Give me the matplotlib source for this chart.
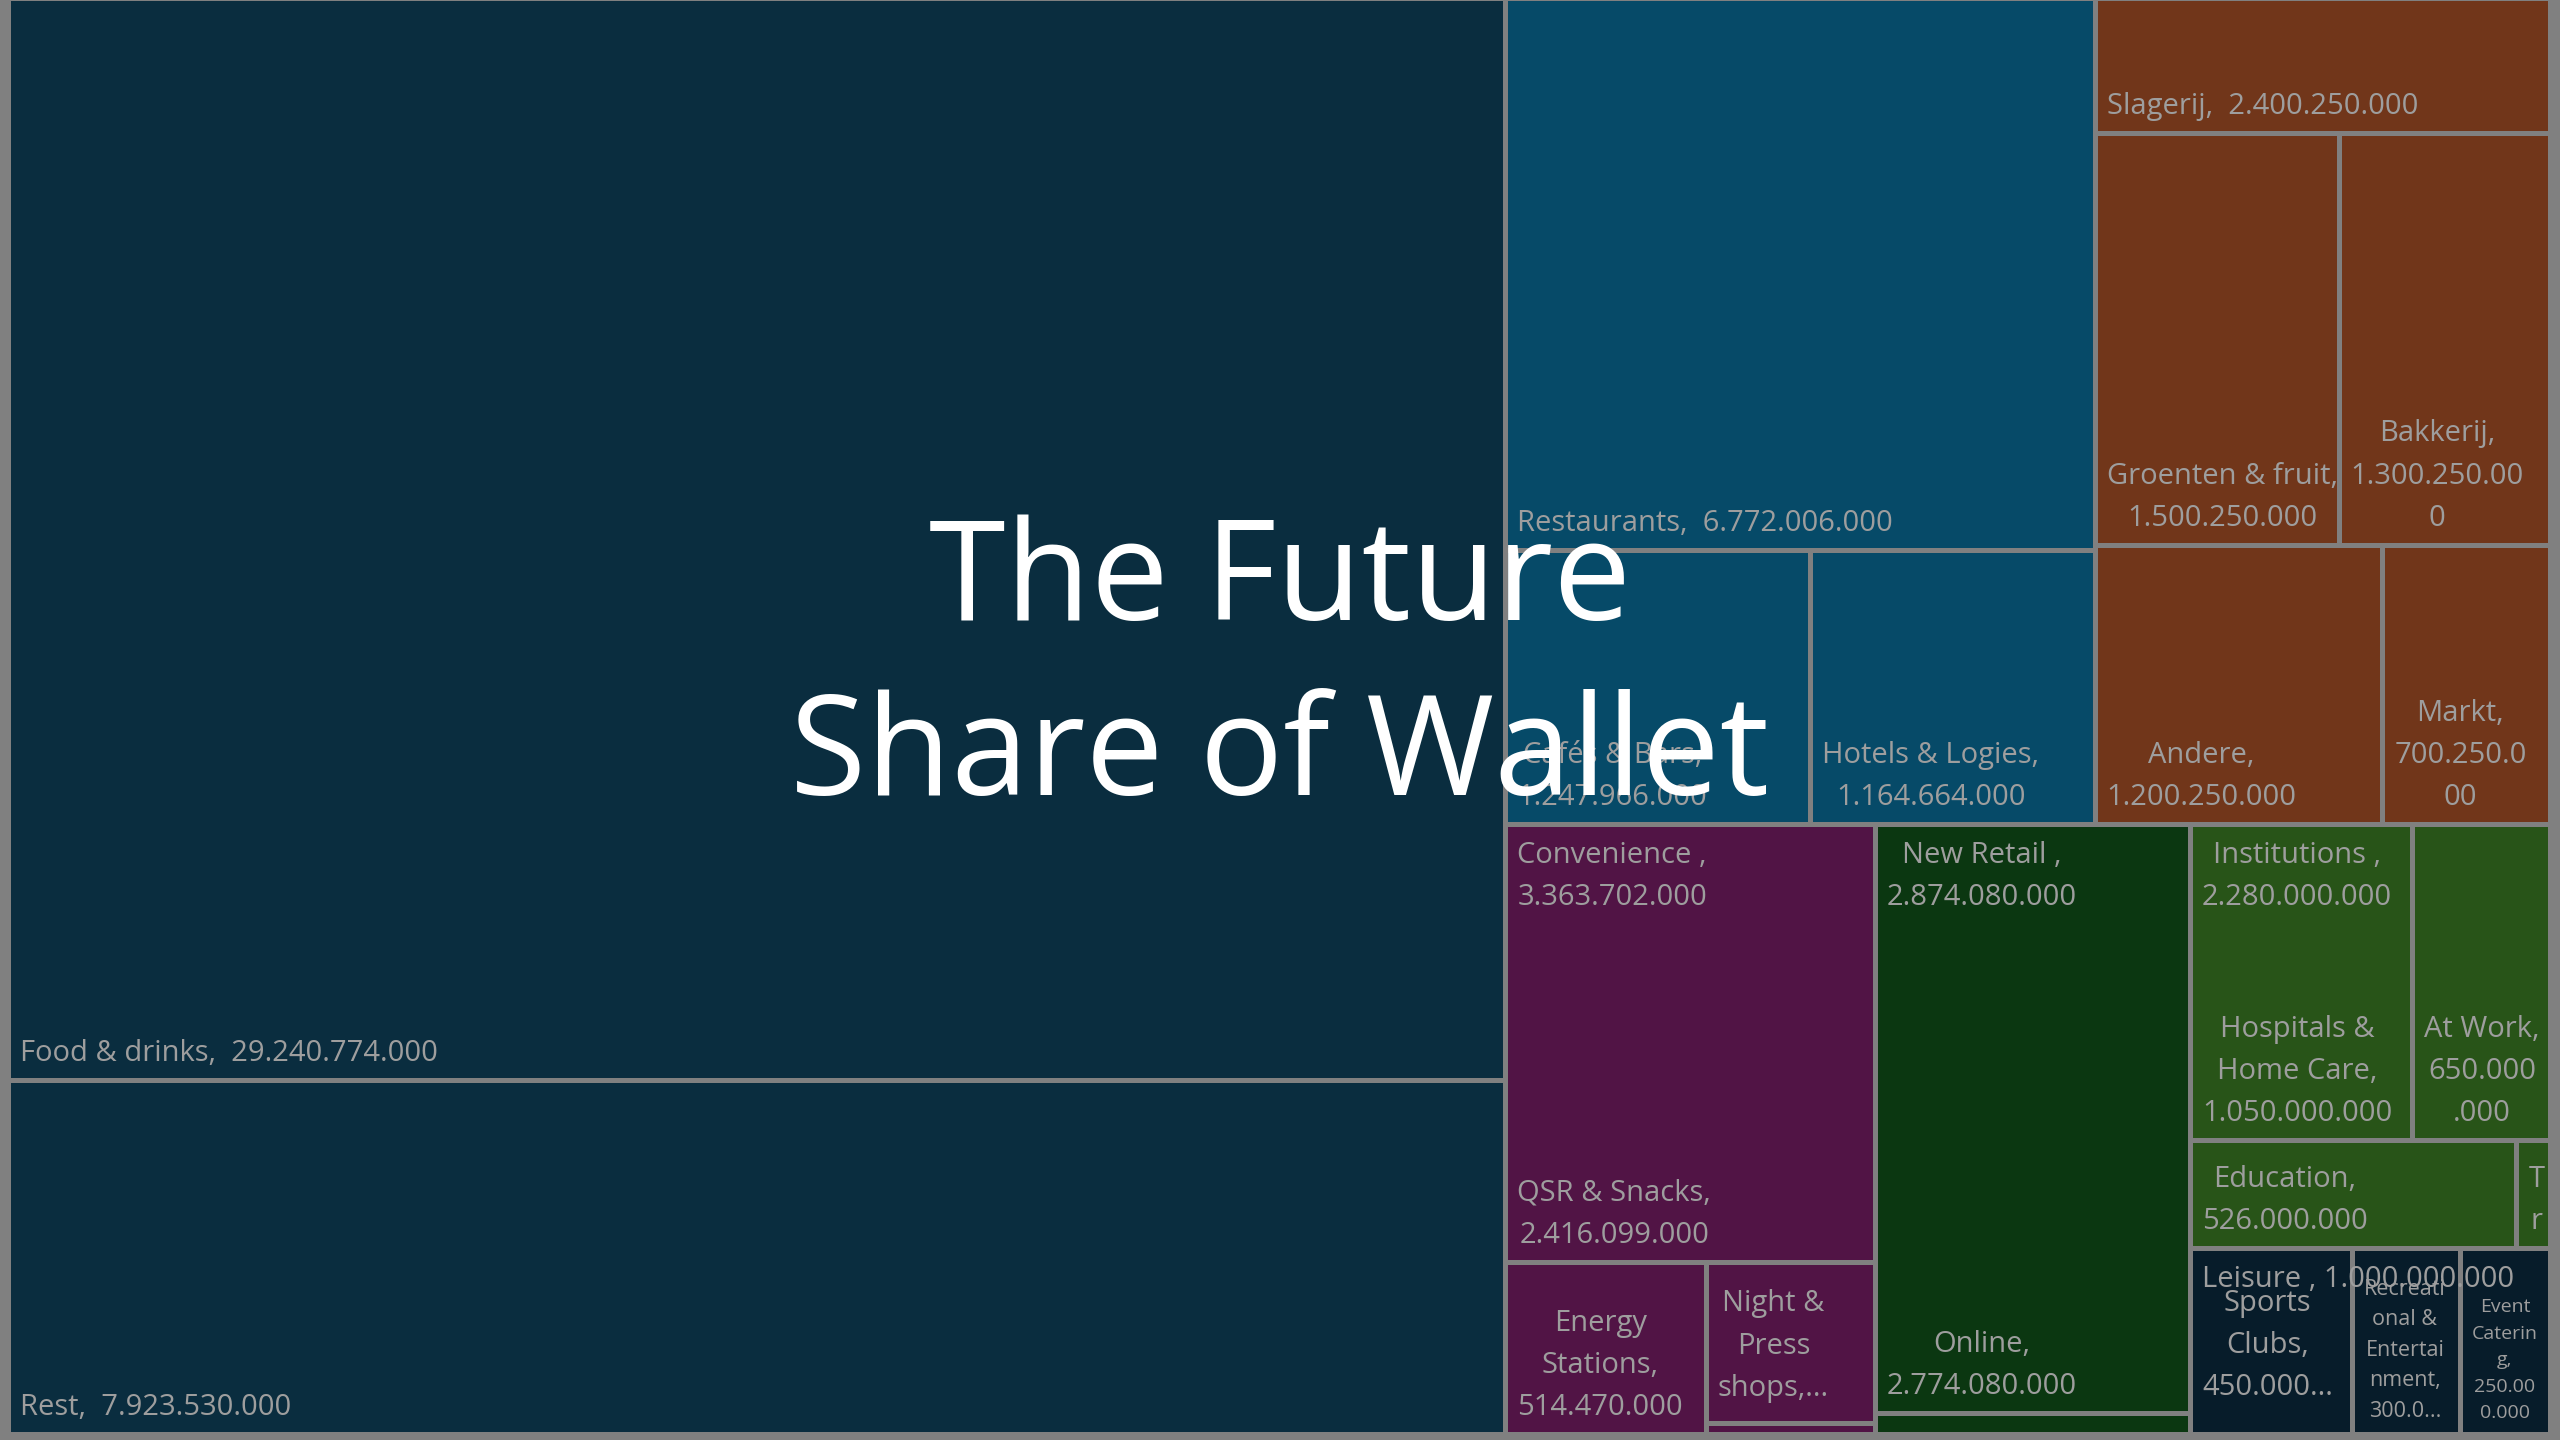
import matplotlib
matplotlib.use("Agg")
import matplotlib.pyplot as plt
from matplotlib.patches import Rectangle
from matplotlib.transforms import offset_copy

plt.rcParams['font.family'] = ['Open Sans', 'DejaVu Sans']

# leaf cells of the treemap
names = ["Food & drinks", "Rest", "Restaurants", "Cafés & Bars", "Hotels & Logies",
         "Slagerij", "Groenten & fruit", "Bakkerij", "Andere", "Markt",
         "QSR & Snacks", "Energy Stations", "Night & Press shops", "Convenience other",
         "Online", "New Retail other",
         "Hospitals & Home Care", "At Work", "Education", "Tr",
         "Sports Clubs", "Recreational & Entertainment", "Event Catering"]
# value printed on each label
values = [29240774000, 7923530000, 6772006000, 1247966000, 1164664000,
          2400250000, 1500250000, 1300250000, 1200250000, 700250000,
          2416099000, 514470000, 405000000, 28133000,
          2774080000, 100000000,
          1050000000, 650000000, 526000000, 54000000,
          450000000, 300000000, 250000000]
# cell size as drawn (millions) - food, restaurants and slagerij are drawn smaller than their label
sizes = [24200, 7923.53, 4860, 1247.966, 1164.664,
         920, 1500.25, 1300.25, 1200.25, 700.25,
         2416.099, 514.47, 405, 28.133,
         2774.08, 100,
         1050, 650, 526, 54,
         450, 300, 250]


def fmt(v):
    return f"{v:,}".replace(",", ".")


def lab(i, sep=",  "):
    return names[i] + sep + fmt(values[i])


# label text as it is wrapped in the cells
label_text = [lab(0), lab(1), lab(2), lab(3, ",\n"), lab(4, ",\n"),
              lab(5), lab(6, ",\n"), "Bakkerij,\n1.300.250.00\n0", lab(8, ",\n"), "Markt,\n700.250.0\n00",
              lab(10, ",\n"), "Energy\nStations,\n514.470.000", "Night &\nPress\nshops,...", "",
              lab(14, ",\n"), "",
              "Hospitals &\nHome Care,\n1.050.000.000", "At Work,\n650.000\n.000", lab(18, ",\n"), "T\nr",
              "Sports\nClubs,\n450.000...", "Recreati\nonal &\nEntertai\nnment,\n300.0...",
              "Event\nCaterin\ng,\n250.00\n0.000"]
small_font = {21: 15.5, 22: 14}
lift = {12: 8, 20: 20}   # a few labels sit higher in their cell

# split structure: h = side by side, v = stacked
tree = ("h", [
    ("v", [0, 1], dict(color="#0a2d3f")),
    ("v", [
        ("h", [
            ("v", [2, ("h", [3, 4], {})], dict(color="#064a68")),
            ("v", [5, ("h", [6, 7], {}), ("h", [8, 9], {})], dict(color="#71361a")),
        ], {}),
        ("h", [
            ("v", [10, ("h", [11, ("v", [12, 13], {})], {})],
             dict(color="#511445", parent="Convenience ", sep=",\n")),
            ("v", [14, 15], dict(color="#0b3711", parent="New Retail ", sep=",\n")),
            ("v", [
                ("v", [("h", [16, 17], {}), ("h", [18, 19], {})],
                 dict(color="#285418", parent="Institutions ", sep=",\n")),
                ("h", [20, 21, 22], dict(color="#071c2a", parent="Leisure ", sep=", ")),
            ], {}),
        ], {}),
    ], {}),
], {})


def total(node, arr):
    if isinstance(node, int):
        return arr[node]
    return sum(total(c, arr) for c in node[1])


leaves = []
groups = []


def place(node, x0, y0, x1, y1, color):
    if isinstance(node, int):
        leaves.append((node, x0, y0, x1, y1, color))
        return
    orient, kids, opts = node
    color = opts.get("color", color)
    if "parent" in opts:
        groups.append((opts["parent"] + opts["sep"] + fmt(total(node, values)), x0, y1))
    t = total(node, sizes)
    if orient == "h":
        cur = x0
        for k in kids:
            w = (x1 - x0) * total(k, sizes) / t
            place(k, cur, y0, cur + w, y1, color)
            cur += w
    else:
        cur = y1
        for k in kids:
            h = (y1 - y0) * total(k, sizes) / t
            place(k, x0, cur - h, x1, cur, color)
            cur -= h


place(tree, 0, 0, 1, 1, "#0a2d3f")

fig = plt.figure(figsize=(25.6, 14.4), dpi=100, facecolor="#808080")
ax = fig.add_axes([8 / 2560, 6 / 1440, 2542 / 2560, 1436 / 1440])
ax.set_xlim(0, 1)
ax.set_ylim(0, 1)
ax.axis("off")

txt_color = "#9e9e9e"
par_tr = offset_copy(ax.transData, fig=fig, x=12, y=-17, units="dots")

for i, x0, y0, x1, y1, c in leaves:
    ax.add_patch(Rectangle((x0, y0), x1 - x0, y1 - y0, facecolor=c,
                           edgecolor="#808080", linewidth=3.6))
for i, x0, y0, x1, y1, c in leaves:
    if label_text[i]:
        tr = offset_copy(ax.transData, fig=fig, x=12, y=12 + lift.get(i, 0), units="dots")
        ax.text(x0, y0, label_text[i], transform=tr, ha="left", va="bottom",
                multialignment="center", fontsize=small_font.get(i, 21),
                color=txt_color, linespacing=1.6)
for s, x0, y1 in groups:
    ax.text(x0, y1, s, transform=par_tr, ha="left", va="top", multialignment="center",
            fontsize=21, color=txt_color, linespacing=1.6)

fig.text(0.5, 1 - 620 / 1440, "The Future", ha="center", va="baseline",
         fontsize=100, color="white")
fig.text(0.5, 1 - 795 / 1440, "Share of Wallet", ha="center", va="baseline",
         fontsize=100, color="white")

fig.savefig("out.png", dpi=100, facecolor=fig.get_facecolor())
